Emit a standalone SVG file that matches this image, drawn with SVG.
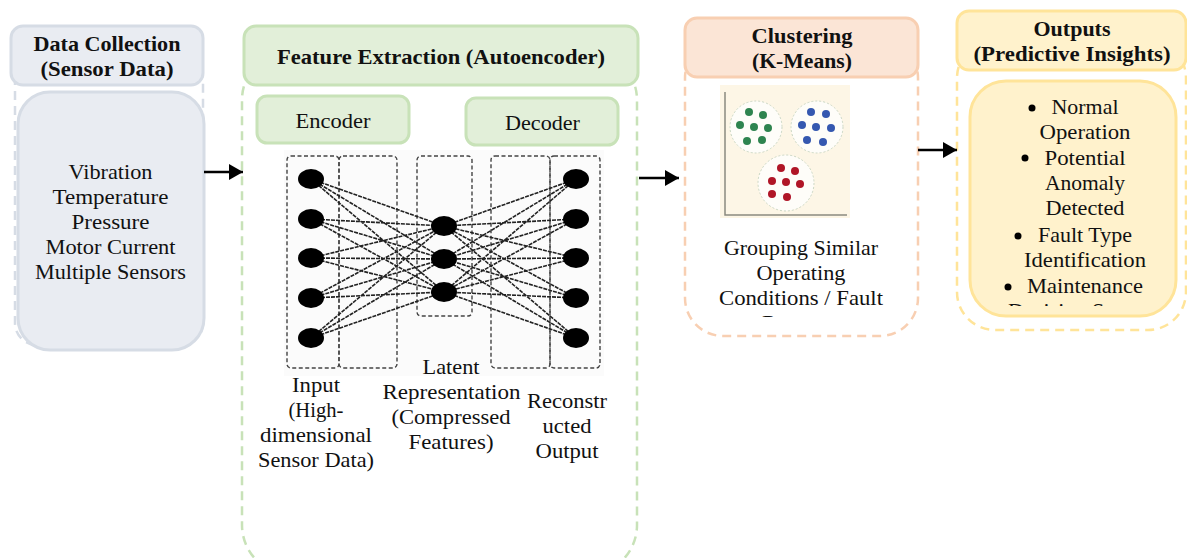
<svg xmlns="http://www.w3.org/2000/svg" width="1187" height="558" viewBox="0 0 1187 558">
<style>
text{font-family:"Liberation Serif",serif;font-size:21.5px;fill:#111;text-anchor:middle}
.b{font-weight:bold}
.gray{fill:#e9ecf2;stroke:#d6dce5;stroke-width:3}
.green{fill:#e2efd9;stroke:#c8e2b8;stroke-width:3}
.orange{fill:#fbe5d6;stroke:#f8cfb2;stroke-width:3}
.yellow{fill:#fff2cc;stroke:#ffe499;stroke-width:3}
.dash{fill:none;stroke-width:2.5;stroke-dasharray:9 6}
.box{fill:none;stroke:#444;stroke-width:1.4;stroke-dasharray:4 2.5}
.net{fill:none;stroke:#222;stroke-width:1.6;stroke-dasharray:4 1}
.wire{fill:none;stroke:#000;stroke-width:2.5}
.ring{fill:#fff;fill-opacity:.75;stroke:#c9d6c4;stroke-width:1;stroke-dasharray:2 2}
</style>
<defs>
<marker id="arrow" markerUnits="userSpaceOnUse" markerWidth="14" markerHeight="16" refX="14" refY="8" orient="auto"><path d="M0 0L14 8L0 16Z" fill="#000"/></marker>
<filter id="soft" x="-5%" y="-5%" width="110%" height="110%"><feGaussianBlur stdDeviation="0.6"/></filter>
<clipPath id="clipC"><rect x="690" y="80" width="225" height="237"/></clipPath>
<clipPath id="clipO"><rect x="972" y="85" width="202" height="221"/></clipPath>
</defs>

<g id="data-collection">
<rect class="dash" x="15" y="60" width="188" height="285" rx="22" stroke="#d6dce5"/>
<rect class="gray" x="11" y="26" width="192" height="59" rx="12"/>
<rect class="gray" x="18" y="92" width="186" height="258" rx="32"/>
<text class="b" x="107" y="51" textLength="147" lengthAdjust="spacingAndGlyphs">Data Collection</text>
<text class="b" x="107" y="76" textLength="133" lengthAdjust="spacingAndGlyphs">(Sensor Data)</text>
<text x="110.500" y="179" textLength="84" lengthAdjust="spacingAndGlyphs">Vibration</text>
<text x="110.500" y="204" textLength="116" lengthAdjust="spacingAndGlyphs">Temperature</text>
<text x="110.500" y="229" textLength="78" lengthAdjust="spacingAndGlyphs">Pressure</text>
<text x="110.500" y="254" textLength="130" lengthAdjust="spacingAndGlyphs">Motor Current</text>
<text x="110.500" y="279" textLength="151" lengthAdjust="spacingAndGlyphs">Multiple Sensors</text>
</g>

<g id="feature-extraction">
<rect class="dash" x="242" y="50" width="395" height="525" rx="50" stroke="#c8e2b8"/>
<rect class="green" x="244" y="26" width="394" height="59" rx="12"/>
<text class="b" x="441" y="64" textLength="328" lengthAdjust="spacingAndGlyphs">Feature Extraction (Autoencoder)</text>
</g>

<g id="encoder">
<rect class="green" x="257" y="96" width="152" height="47" rx="10"/>
<text x="333" y="128" textLength="75" lengthAdjust="spacingAndGlyphs">Encoder</text>
</g>
<g id="decoder">
<rect class="green" x="466" y="98" width="152" height="47" rx="10"/>
<text x="542.500" y="130" textLength="75" lengthAdjust="spacingAndGlyphs">Decoder</text>
</g>

<g id="network">
<rect x="284" y="150" width="320" height="226" fill="#fbfbfb"/>
<g filter="url(#soft)">
<rect class="box" x="287" y="156" width="52" height="212" rx="4"/>
<rect class="box" x="339" y="156" width="58" height="212" rx="4"/>
<rect class="box" x="417" y="156" width="55" height="160" rx="4"/>
<rect class="box" x="491" y="156" width="59" height="212" rx="4"/>
<rect class="box" x="550" y="156" width="50" height="212" rx="4"/>
<path class="net" d="M311 179L444 226M311 179L444 259M311 179L444 292M311 219L444 226M311 219L444 259M311 219L444 292M311 258L444 226M311 258L444 259M311 258L444 292M311 298L444 226M311 298L444 259M311 298L444 292M311 338L444 226M311 338L444 259M311 338L444 292"/>
<path class="net" d="M576 179L444 226M576 179L444 259M576 179L444 292M576 219L444 226M576 219L444 259M576 219L444 292M576 258L444 226M576 258L444 259M576 258L444 292M576 298L444 226M576 298L444 259M576 298L444 292M576 338L444 226M576 338L444 259M576 338L444 292"/>
<g fill="#000">
<ellipse cx="311" cy="179" rx="13" ry="10"/><ellipse cx="311" cy="219" rx="13" ry="10"/><ellipse cx="311" cy="258" rx="13" ry="10"/><ellipse cx="311" cy="298" rx="13" ry="10"/><ellipse cx="311" cy="338" rx="13" ry="10"/>
<ellipse cx="444" cy="226" rx="13" ry="10"/><ellipse cx="444" cy="259" rx="13" ry="10"/><ellipse cx="444" cy="292" rx="13" ry="10"/>
<ellipse cx="576" cy="179" rx="13" ry="10"/><ellipse cx="576" cy="219" rx="13" ry="10"/><ellipse cx="576" cy="258" rx="13" ry="10"/><ellipse cx="576" cy="298" rx="13" ry="10"/><ellipse cx="576" cy="338" rx="13" ry="10"/>
</g>
</g>
</g>

<g id="input-label">
<text x="316" y="392" textLength="48" lengthAdjust="spacingAndGlyphs">Input</text>
<text x="316" y="417" textLength="55" lengthAdjust="spacingAndGlyphs">(High-</text>
<text x="316" y="442" textLength="112" lengthAdjust="spacingAndGlyphs">dimensional</text>
<text x="316" y="467" textLength="116" lengthAdjust="spacingAndGlyphs">Sensor Data)</text>
</g>
<g id="latent-label">
<text x="451" y="374" textLength="57" lengthAdjust="spacingAndGlyphs">Latent</text>
<text x="451.500" y="399" textLength="138" lengthAdjust="spacingAndGlyphs">Representation</text>
<text x="451" y="424" textLength="119" lengthAdjust="spacingAndGlyphs">(Compressed</text>
<text x="451" y="449" textLength="85" lengthAdjust="spacingAndGlyphs">Features)</text>
</g>
<g id="output-label">
<text x="567" y="408" textLength="80" lengthAdjust="spacingAndGlyphs">Reconstr</text>
<text x="567" y="433" textLength="49" lengthAdjust="spacingAndGlyphs">ucted</text>
<text x="567" y="458" textLength="63" lengthAdjust="spacingAndGlyphs">Output</text>
</g>

<g id="clustering">
<rect class="dash" x="685" y="40" width="233" height="296" rx="38" stroke="#f8cfb2"/>
<rect class="orange" x="685" y="18" width="233" height="59" rx="12"/>
<text class="b" x="802" y="43" textLength="101" lengthAdjust="spacingAndGlyphs">Clustering</text>
<text class="b" x="802" y="68" textLength="100" lengthAdjust="spacingAndGlyphs">(K-Means)</text>
<rect x="720" y="85" width="130" height="133" fill="#fdf6e6"/>
<g filter="url(#soft)">
<circle class="ring" cx="756" cy="127" r="26"/><circle class="ring" cx="817" cy="127" r="26"/><circle class="ring" cx="786" cy="183" r="28"/>
<path d="M725 92V215H847" fill="none" stroke="#8a8a80" stroke-width="1.500"/>
<g fill="#2f8450"><circle cx="749" cy="112" r="4"/><circle cx="763" cy="115" r="4"/><circle cx="740" cy="125" r="4"/><circle cx="754" cy="127" r="4"/><circle cx="768" cy="128" r="4"/><circle cx="747" cy="141" r="4"/><circle cx="762" cy="140" r="4"/></g>
<g fill="#3558b0"><circle cx="811" cy="112" r="4"/><circle cx="826" cy="114" r="4"/><circle cx="802" cy="125" r="4"/><circle cx="816" cy="127" r="4"/><circle cx="831" cy="128" r="4"/><circle cx="807" cy="140" r="4"/><circle cx="823" cy="142" r="4"/></g>
<g fill="#b01528"><circle cx="781" cy="168" r="4"/><circle cx="795" cy="171" r="4"/><circle cx="772" cy="181" r="4"/><circle cx="786" cy="182" r="4"/><circle cx="800" cy="184" r="4"/><circle cx="772" cy="194" r="4"/><circle cx="787" cy="197" r="4"/></g>
</g>
<g clip-path="url(#clipC)">
<text x="801" y="255" textLength="154" lengthAdjust="spacingAndGlyphs">Grouping Similar</text>
<text x="801" y="280" textLength="89" lengthAdjust="spacingAndGlyphs">Operating</text>
<text x="801" y="305" textLength="164" lengthAdjust="spacingAndGlyphs">Conditions / Fault</text>
<text x="801" y="330" textLength="78" lengthAdjust="spacingAndGlyphs">Patterns</text>
</g>
</g>

<g id="outputs">
<rect class="dash" x="957" y="40" width="229" height="290" rx="38" stroke="#ffe499"/>
<rect class="yellow" x="957" y="11" width="229" height="59" rx="12"/>
<text class="b" x="1072" y="36" textLength="77" lengthAdjust="spacingAndGlyphs">Outputs</text>
<text class="b" x="1072" y="61" textLength="197" lengthAdjust="spacingAndGlyphs">(Predictive Insights)</text>
<rect class="yellow" x="970" y="81" width="206" height="235" rx="36"/>
<g fill="#000"><circle cx="1032" cy="108" r="3.500"/><circle cx="1025" cy="158" r="3.500"/><circle cx="1018" cy="236" r="3.500"/><circle cx="1008" cy="287" r="3.500"/></g>
<g clip-path="url(#clipO)">
<text x="1085" y="114" textLength="67" lengthAdjust="spacingAndGlyphs">Normal</text>
<text x="1085" y="139" textLength="91" lengthAdjust="spacingAndGlyphs">Operation</text>
<text x="1085" y="165" textLength="81" lengthAdjust="spacingAndGlyphs">Potential</text>
<text x="1085" y="190" textLength="80" lengthAdjust="spacingAndGlyphs">Anomaly</text>
<text x="1085" y="215" textLength="79" lengthAdjust="spacingAndGlyphs">Detected</text>
<text x="1085" y="242" textLength="94" lengthAdjust="spacingAndGlyphs">Fault Type</text>
<text x="1085" y="267" textLength="122" lengthAdjust="spacingAndGlyphs">Identification</text>
<text x="1085" y="293" textLength="116" lengthAdjust="spacingAndGlyphs">Maintenance</text>
<text x="1085" y="318" textLength="154" lengthAdjust="spacingAndGlyphs">Decision Support</text>
</g>
</g>

<g id="connectors">
<path class="wire" d="M204 172H243" marker-end="url(#arrow)"/>
<path class="wire" d="M639 178H679" marker-end="url(#arrow)"/>
<path class="wire" d="M918 150H957" marker-end="url(#arrow)"/>
</g>
</svg>
